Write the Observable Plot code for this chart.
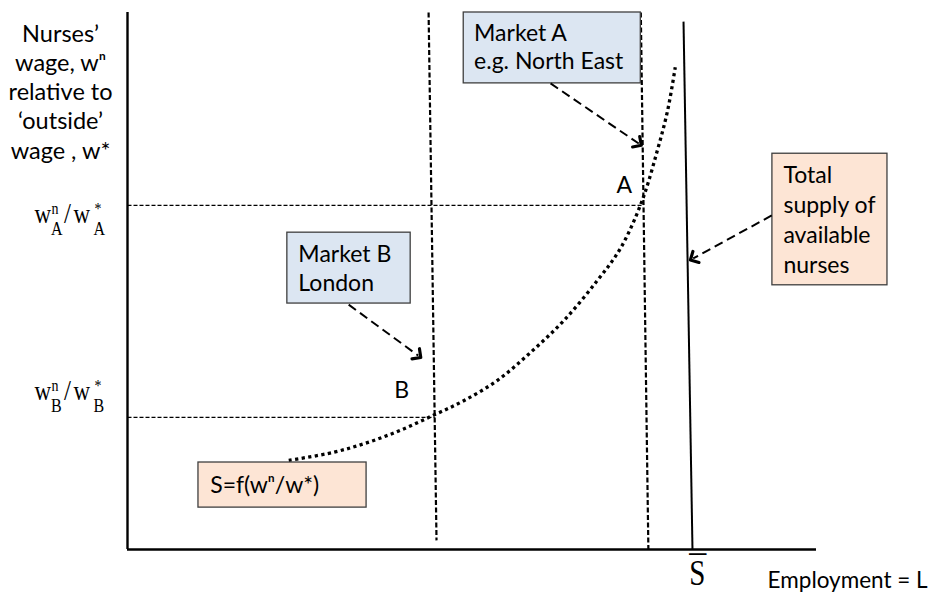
<!DOCTYPE html>
<html>
<head>
<meta charset="utf-8">
<script src="https://cdn.jsdelivr.net/npm/d3@7"></script>
<script src="https://cdn.jsdelivr.net/npm/@observablehq/plot@0.6"></script>
<style>
  body { margin: 0; background: #fff; }
  svg { display: block; }
</style>
</head>
<body>
<div id="chart"></div>
<script>
// ---------- DATA (abstract diagram units: employment 0-100, relative wage 0-100) ----------
// Upward-sloping supply curve S = f(w^n / w*) (dotted)
const supplyEmployment = [23.4, 29.9, 34.8, 39.6, 44.4, 48.8, 53.7, 58.5, 63.3, 68.2, 71.6, 74.7, 76.9, 78.4, 79.5];
const supplyWage       = [16.6, 18.1, 19.9, 22.2, 25.0, 27.7, 31.5, 36.7, 42.6, 50.1, 56.2, 65.0, 74.3, 81.8, 89.8];

// Market demand lines (near-vertical, dashed): B = London, A = North East
const markets          = ["B", "A"];
const demandTopEmp     = [43.7, 74.5];
const demandTopWage    = [100, 100];
const demandBottomEmp  = [44.85, 75.6];
const demandBottomWage = [1.7, 0];

// Equilibria (relative wage level and employment)
const eqWage       = [24.6, 64.1];
const eqEmployment = [44.6, 74.9];

// Total supply of available nurses (solid, near-vertical)
const totalSupplyEmp  = [80.7, 82.0];
const totalSupplyWage = [98.3, 0];

// Annotation boxes
const boxText = ["Market A\ne.g. North East", "Market B\nLondon", "S=f(w\u207F/w*)", "Total\nsupply of\navailable\nnurses"];
const boxX1 = [48.8, 23.2, 10.3, 93.6];
const boxX2 = [74.5, 41.1, 34.7, 110.3];
const boxY1 = [86.8, 45.8, 7.8, 49.2];
const boxY2 = [100, 59.0, 16.2, 73.7];
const boxFill = ["#dce6f2", "#dce6f2", "#fde5d5", "#fde5d5"];
const boxTextX = [50.3, 24.8, 12.0, 95.2];
const boxTextY = [89.57, 48.23, 10.43, 51.58];
const boxLineHeight = [28, 29, 28, 30];

// Annotation arrows (from box to target)
const arrowX1 = [61.4, 32.1, 93.5];
const arrowY1 = [86.8, 45.6, 62.2];
const arrowX2 = [74.2, 42.2, 82.1];
const arrowY2 = [75.6, 36.1, 54.2];

// Point labels
const pointLabels = ["A", "B"];
const pointLabelX = [72.1, 39.8];
const pointLabelY = [66.3, 28.3];

// Axis texts
const yAxisTitle = "Nurses\u2019\nwage, w\u207F\nrelative to\n\u2018outside\u2019\nwage , w*";
const xAxisTitle = "Employment = L";
const supplyTick = "S";
const supplyTickBar = "_";
const wageTickMarkets = ["A", "B"];
const wageTickY = [60.71, 27.75];

// ---------- BUILD ----------
const font = "Lato, 'Open Sans', sans-serif";
const serif = "'Liberation Serif', 'DejaVu Serif', serif";
const fs = 23;

const lines = (x1, y1, x2, y2) => x1.map((_, i) => ({x1: x1[i], y1: y1[i], x2: x2[i], y2: y2[i]}));

const supply = supplyEmployment.map((x, i) => ({x, y: supplyWage[i]}));
const demand = lines(demandTopEmp, demandTopWage, demandBottomEmp, demandBottomWage);
const eqLines = eqWage.map((w, i) => ({x1: 0, x2: eqEmployment[i], y: w}));
const total = lines([totalSupplyEmp[0]], [totalSupplyWage[0]], [totalSupplyEmp[1]], [totalSupplyWage[1]]);
const boxes = boxText.map((t, i) => ({t, x1: boxX1[i], x2: boxX2[i], y1: boxY1[i], y2: boxY2[i], fill: boxFill[i], tx: boxTextX[i], ty: boxTextY[i], lh: boxLineHeight[i]}));
const arrows = lines(arrowX1, arrowY1, arrowX2, arrowY2);
const points = pointLabels.map((t, i) => ({t, x: pointLabelX[i], y: pointLabelY[i]}));
const wageTicks = wageTickMarkets.map((m, i) => ({m, y: wageTickY[i]}));

// pieces of the serif tick labels  w_m^n / w_m^*
const tickX = -13.5;
const pieces = [
  {text: () => "w", dx: 0, dy: 0, size: 23},
  {text: d => d.m, dx: 16.5, dy: 12, size: 16},
  {text: () => "n", dx: 17, dy: -9, size: 14},
  {text: () => "/", dx: 29.5, dy: 0, size: 25},
  {text: () => "w", dx: 39, dy: 0, size: 23},
  {text: () => "*", dx: 60, dy: -9, size: 14},
  {text: d => d.m, dx: 59, dy: 12, size: 16}
];

const marks = [
  // axes
  Plot.ruleX([0], {stroke: "#000", strokeWidth: 2.4}),
  Plot.ruleY([0], {stroke: "#000", strokeWidth: 2.6}),
  // equilibrium horizontal dashed lines
  Plot.link(eqLines, {x1: "x1", x2: "x2", y1: "y", y2: "y", stroke: "#000", strokeWidth: 1.3, strokeDasharray: "4,2"}),
  // demand lines
  Plot.link(demand, {x1: "x1", y1: "y1", x2: "x2", y2: "y2", stroke: "#000", strokeWidth: 2.2, strokeDasharray: "5,2.5"}),
  // total supply
  Plot.link(total, {x1: "x1", y1: "y1", x2: "x2", y2: "y2", stroke: "#000", strokeWidth: 2}),
  // supply curve dotted
  Plot.line(supply, {x: "x", y: "y", curve: "catmull-rom", stroke: "#000", strokeWidth: 3.3, strokeDasharray: "3.2,3.4", strokeLinecap: "butt"}),
  // boxes
  Plot.rect(boxes, {x1: "x1", x2: "x2", y1: "y1", y2: "y2", fill: "fill", stroke: "#3f3f3f", strokeWidth: 1.3}),
  // arrows
  Plot.link(arrows, {x1: "x1", y1: "y1", x2: "x2", y2: "y2", stroke: "#000", strokeWidth: 2, strokeDasharray: "9,5", markerEnd: "arrow"}),
  // box texts
  ...boxes.map(b => Plot.text([b], {x: "tx", y: "ty", text: "t", textAnchor: "start", lineAnchor: "bottom", lineHeight: b.lh / fs, fontSize: fs, fontFamily: font, fill: "#000"})),
  // point labels
  Plot.text(points, {x: "x", y: "y", text: "t", textAnchor: "middle", lineAnchor: "bottom", fontSize: fs, fontFamily: font, fill: "#000"}),
  // y axis title
  Plot.text([yAxisTitle], {x: -9.72, y: 72.8, text: d => d, textAnchor: "middle", lineAnchor: "bottom", lineHeight: 29.25 / 23.5, fontSize: 23.5, fontFamily: font, fill: "#000"}),
  // x axis title
  Plot.text([xAxisTitle], {x: 92.9, y: -7.26, text: d => d, textAnchor: "start", lineAnchor: "bottom", fontSize: 22.5, fontFamily: font, fill: "#000"}),
  // S bar tick: letter and its bar
  Plot.text([supplyTick], {x: 82.7, y: -6.7, text: d => d, textAnchor: "middle", lineAnchor: "bottom", fontSize: 29, fontFamily: serif, fill: "#000", className: "sbar"}),
  Plot.text([supplyTickBar], {x: 82.75, y: -0.2, text: d => d, textAnchor: "middle", lineAnchor: "bottom", fontSize: 34, fontFamily: serif, fill: "#000"}),
  // serif wage tick labels
  ...pieces.map(p => Plot.text(wageTicks, {x: () => tickX, y: "y", text: p.text, dx: p.dx, dy: p.dy, textAnchor: "start", lineAnchor: "bottom", fontSize: p.size, fontFamily: serif, fill: "#000", className: "wtick"}))
];

const chart = Plot.plot({
  width: 930,
  height: 592,
  marginLeft: 127,
  marginRight: 114,
  marginTop: 12,
  marginBottom: 43,
  x: {domain: [0, 100], axis: null},
  y: {domain: [0, 100], axis: null},
  style: {background: "#fff", overflow: "visible"},
  marks
});

// arrowheads: solid and a little larger
d3.select(chart).selectAll("marker")
  .attr("markerWidth", 10.5).attr("markerHeight", 10.5)
  .attr("stroke-dasharray", "none");

// serif labels: the original is vertically stretched
d3.select(chart).selectAll(".wtick text, .sbar text").each(function () {
  const t = this.getAttribute("transform") || "";
  this.setAttribute("transform", t + " scale(1,1.22)");
});

document.getElementById("chart").appendChild(chart);
</script>
</body>
</html>
